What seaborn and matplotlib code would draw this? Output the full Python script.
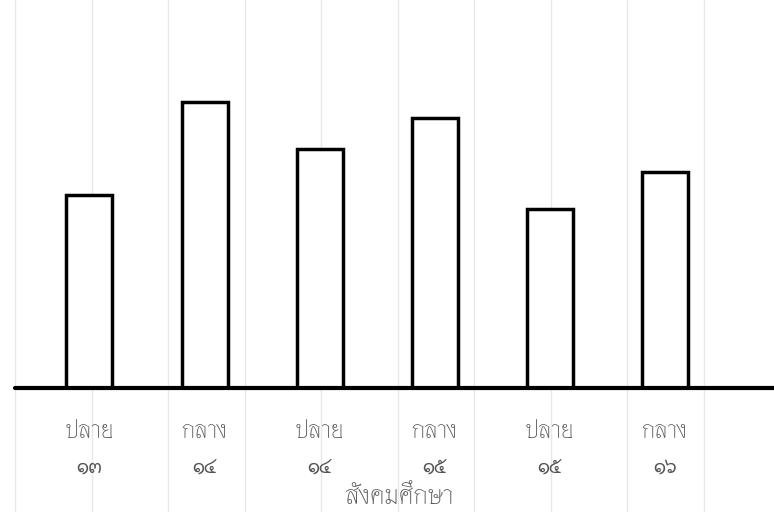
import numpy as np
import pandas as pd
import matplotlib
matplotlib.use("Agg")
import matplotlib.pyplot as plt
import matplotlib.transforms as mtransforms
import seaborn as sns

# ข้อมูล (อ่านจากภาพ, หน่วยตามความสูงของแท่ง)
terms = ["ปลาย", "กลาง", "ปลาย", "กลาง", "ปลาย", "กลาง"]
years = ["๑๓", "๑๔", "๑๔", "๑๕", "๑๕", "๑๖"]
values = [19.3, 28.6, 23.9, 27.0, 17.9, 21.6]
x_label = "สังคมศึกษา"

sns.set_style("white")
plt.rcParams["font.family"] = ["Thasadith", "Loma", "DejaVu Sans"]

df = pd.DataFrame({
    "key": [f"{t} {y}" for t, y in zip(terms, years)],
    "value": values,
})

fig = plt.figure(figsize=(7.74, 5.12), dpi=100)

# เส้นกระดาษกราฟจาง ๆ
bg = fig.add_axes([0, 0, 1, 1], zorder=-1)
bg.set_axis_off()
bg.set_xlim(0, 1)
for gx in np.arange(15, 774, 76.5) / 774:
    bg.axvline(gx, color="#e8e8e8", lw=1)

ax = fig.add_axes([0.019, 0.242, 0.981, 0.758])
ax.patch.set_alpha(0)
sns.barplot(data=df, x="key", y="value", ax=ax, width=0.4,
            color="white", edgecolor="black", linewidth=2.5)
ax.set_xlim(-0.65, 5.95)
ax.set_ylim(0, 38.8)
ax.axhline(0, color="black", lw=3, clip_on=False)
for s in ax.spines.values():
    s.set_visible(False)
ax.set_yticks([])
ax.set_ylabel("")

# แถวบน: ภาค, แถวล่าง: ปี
ax.set_xticks(range(len(terms)))
ax.set_xticklabels(terms, fontweight="medium")
ax.tick_params(axis="x", length=0, pad=23, labelsize=17.5, labelcolor="#5e5e5e")
trans = mtransforms.blended_transform_factory(ax.transData, ax.transAxes)
for i, y in enumerate(years):
    ax.text(i, -0.205, y, transform=trans, ha="center", va="center",
            fontsize=14, fontweight="bold", color="#555555")

ax.set_xlabel(x_label, fontsize=19, color="#5e5e5e", fontweight="medium")
ax.xaxis.set_label_coords(0.507, -0.247)

fig.savefig("out.png", dpi=100)
